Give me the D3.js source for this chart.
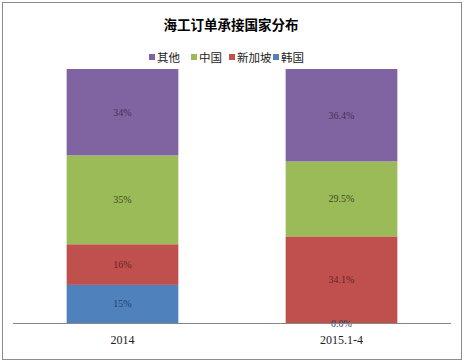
<!DOCTYPE html>
<html>
<head>
<meta charset="utf-8">
<script src="https://cdn.jsdelivr.net/npm/d3@7"></script>
<style>
  body { margin: 0; background: #fff; }
  svg { display: block; }
</style>
</head>
<body>
<svg id="chart" width="464" height="364"></svg>
<script>
// data
const categories = ["2014", "2015.1-4"];
const seriesNames = ["韩国", "新加坡", "中国", "其他"];
const korea = [15, 0.0];
const singapore = [16, 34.1];
const china = [35, 29.5];
const others = [34, 36.4];
const labelText = [
    ["15%", "0.0%"],
    ["16%", "34.1%"],
    ["35%", "29.5%"],
    ["34%", "36.4%"]
];
const legendOrder = ["其他", "中国", "新加坡", "韩国"];

const FILL = { "韩国": "#4f81bd", "新加坡": "#c0504d", "中国": "#9bbb59", "其他": "#8064a2" };
const INK = { "韩国": "#243f60", "新加坡": "#632523", "中国": "#3b4a1f", "其他": "#3f3151" };
const CJK = "'Noto Sans CJK SC', 'Noto Sans', sans-serif";
const NUM = "'Liberation Serif', 'DejaVu Serif', serif";

const svg = d3.select("#chart");

// outer frame
svg.append("rect")
    .attr("x", 2.5).attr("y", 2.5)
    .attr("width", 459).attr("height", 357)
    .attr("fill", "#fff")
    .attr("stroke", "#8c8c8c");

svg.append("text")
    .attr("x", 231).attr("y", 30)
    .attr("text-anchor", "middle")
    .attr("font-family", CJK)
    .attr("font-weight", "bold")
    .attr("font-size", 13.5)
    .text("海工订单承接国家分布");

// legend
const legendX = [149, 191, 229, 273];
const legend = svg.append("g");
legendOrder.forEach((name, i) => {
    legend.append("rect")
        .attr("x", legendX[i]).attr("y", 54)
        .attr("width", 6).attr("height", 6)
        .attr("fill", FILL[name]);
    legend.append("text")
        .attr("x", legendX[i] + 8).attr("y", 61.5)
        .attr("font-family", CJK)
        .attr("font-size", 11.5)
        .attr("fill", "#222")
        .text(name);
});

// scales
const x = d3.scaleBand().domain(categories).range([13, 451]).paddingInner(0.49).paddingOuter(0.245);
const y = d3.scaleLinear().domain([0, 100]).range([323, 69]);

const rows = categories.map((c, i) => ({
    cat: c, "韩国": korea[i], "新加坡": singapore[i], "中国": china[i], "其他": others[i]
}));
const stacked = d3.stack().keys(seriesNames)(rows);

const groups = svg.append("g").selectAll("g")
    .data(stacked)
    .join("g")
    .attr("fill", (d) => FILL[d.key]);

groups.selectAll("rect")
    .data((d) => d)
    .join("rect")
    .attr("x", (d) => x(d.data.cat))
    .attr("y", (d) => y(d[1]))
    .attr("width", x.bandwidth())
    .attr("height", (d) => y(d[0]) - y(d[1]));

// value labels
stacked.forEach((s, si) => {
    svg.append("g").selectAll("text")
        .data(s)
        .join("text")
        .attr("x", (d) => x(d.data.cat) + x.bandwidth() / 2)
        .attr("y", (d) => (y(d[0]) + y(d[1])) / 2 + 3.5)
        .attr("text-anchor", "middle")
        .attr("font-family", NUM)
        .attr("font-size", 10)
        .attr("fill", INK[s.key])
        .text((d, i) => labelText[si][i]);
});

// x axis
svg.append("line")
    .attr("x1", 13).attr("x2", 451)
    .attr("y1", 323.5).attr("y2", 323.5)
    .attr("stroke", "#868686");

svg.append("g").selectAll("text")
    .data(categories)
    .join("text")
    .attr("x", (d) => x(d) + x.bandwidth() / 2)
    .attr("y", 344)
    .attr("text-anchor", "middle")
    .attr("font-family", NUM)
    .attr("font-size", 12)
    .attr("fill", "#222")
    .text((d) => d);
</script>
</body>
</html>
